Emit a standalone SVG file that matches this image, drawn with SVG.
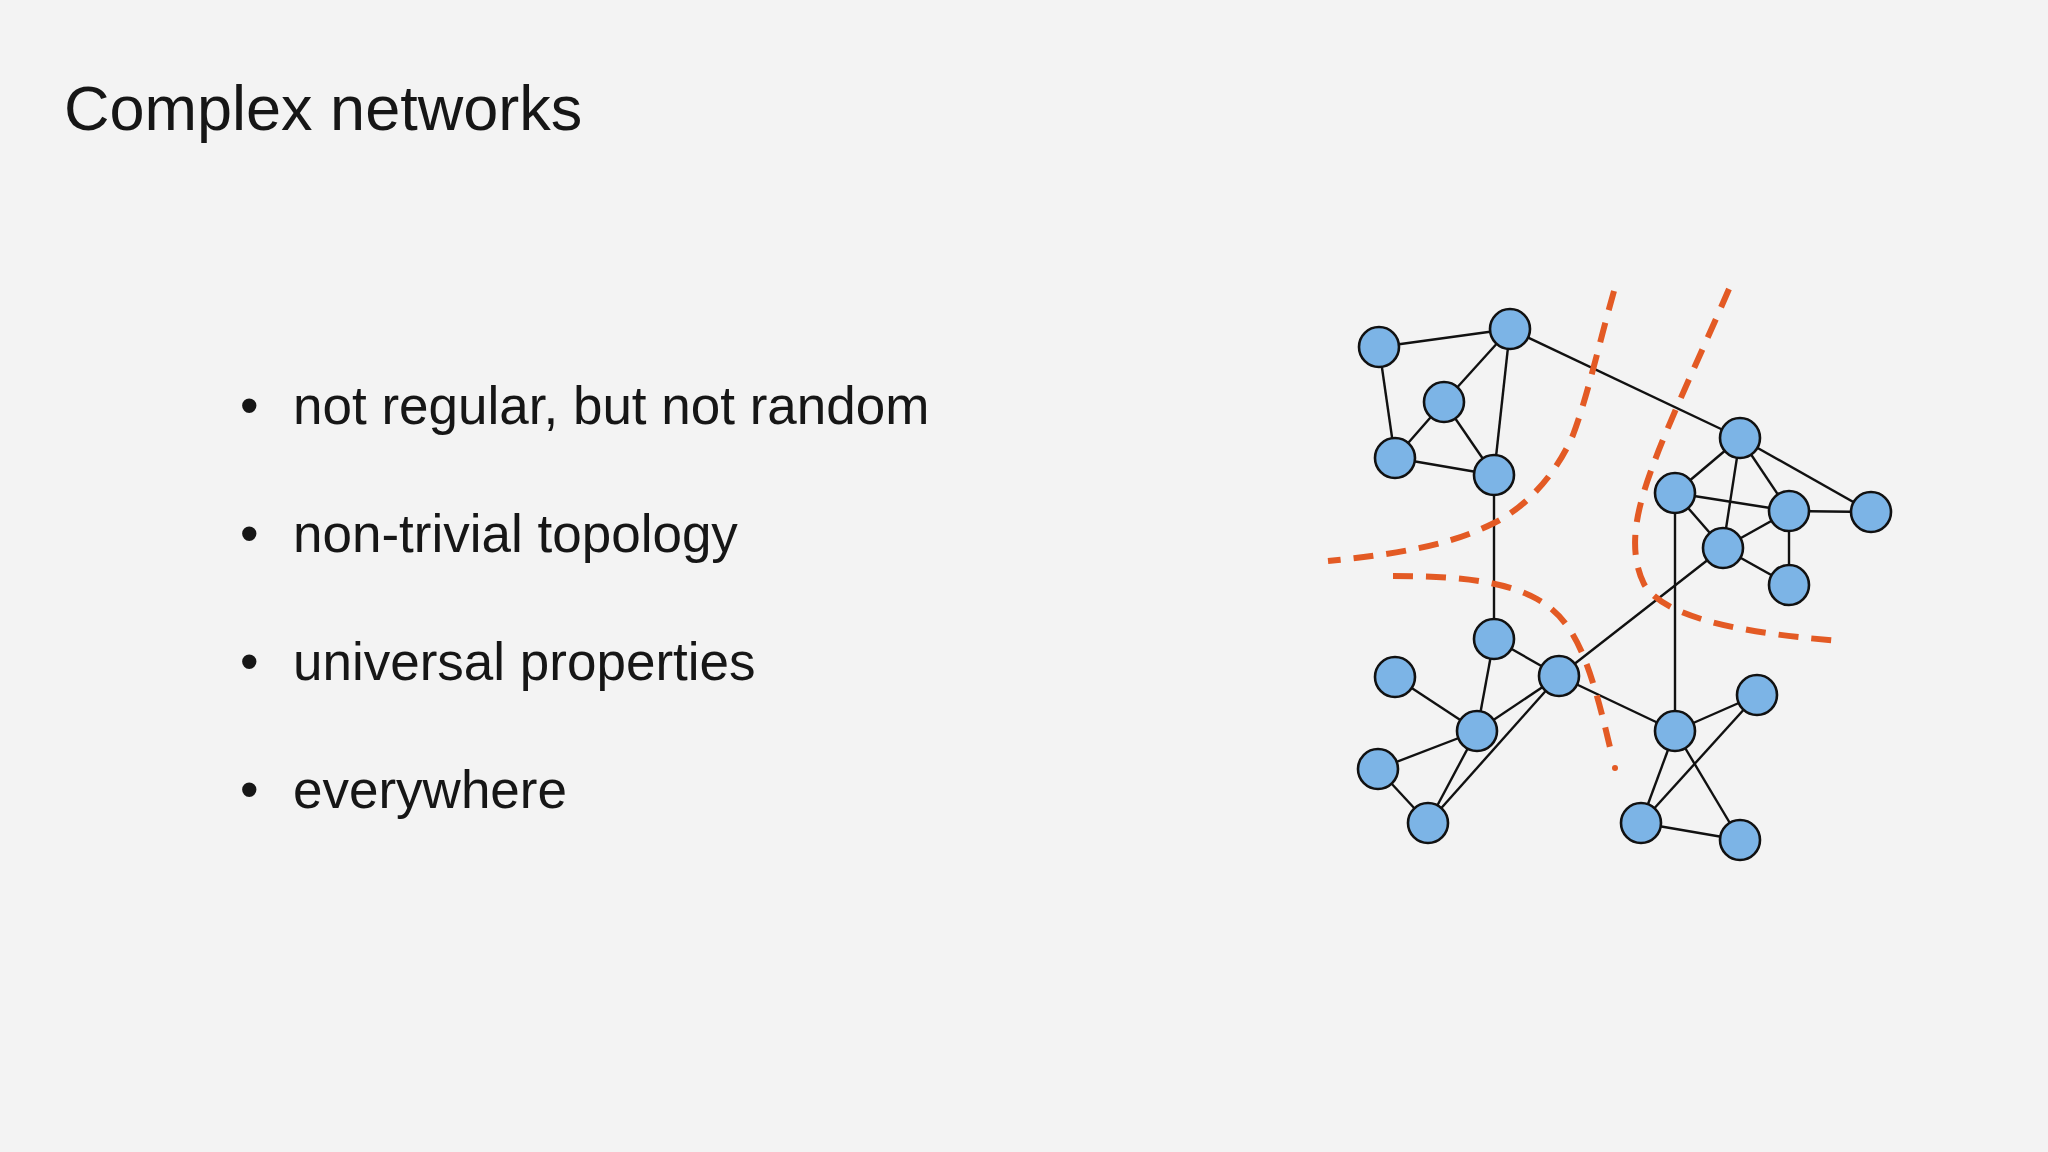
<svg xmlns="http://www.w3.org/2000/svg" width="2048" height="1152" viewBox="0 0 2048 1152">
<style>
text{font-family:"Liberation Sans",Arial,sans-serif;fill:#161616}
.t{font-size:63px}
.b{font-size:53px}
.e line{stroke:#111;stroke-width:2.4}
.n circle{fill:#7cb4e6;stroke:#111;stroke-width:2.6}
.d{fill:none;stroke:#e35a24;stroke-width:6;stroke-dasharray:20 13}
</style>
<rect width="2048" height="1152" fill="#f3f3f3"/>
<text class="t" x="64" y="130">Complex networks</text>
<g id="bullets">
<text class="b" x="240" y="424">•</text><text class="b" x="293" y="424">not regular, but not random</text>
<text class="b" x="240" y="552">•</text><text class="b" x="293" y="552">non-trivial topology</text>
<text class="b" x="240" y="680">•</text><text class="b" x="293" y="680">universal properties</text>
<text class="b" x="240" y="808">•</text><text class="b" x="293" y="808">everywhere</text>
</g>
<g id="connectors" class="e">
<line x1="1379" y1="347" x2="1510" y2="329"/><line x1="1379" y1="347" x2="1395" y2="458"/>
<line x1="1510" y1="329" x2="1444" y2="402"/><line x1="1510" y1="329" x2="1494" y2="475"/>
<line x1="1510" y1="329" x2="1740" y2="438"/><line x1="1444" y1="402" x2="1395" y2="458"/>
<line x1="1444" y1="402" x2="1494" y2="475"/><line x1="1395" y1="458" x2="1494" y2="475"/>
<line x1="1494" y1="475" x2="1494" y2="639"/><line x1="1740" y1="438" x2="1675" y2="493"/>
<line x1="1740" y1="438" x2="1723" y2="548"/><line x1="1740" y1="438" x2="1789" y2="511"/>
<line x1="1740" y1="438" x2="1871" y2="512"/><line x1="1675" y1="493" x2="1789" y2="511"/>
<line x1="1675" y1="493" x2="1723" y2="548"/><line x1="1675" y1="493" x2="1675" y2="731"/>
<line x1="1789" y1="511" x2="1871" y2="512"/><line x1="1789" y1="511" x2="1723" y2="548"/>
<line x1="1789" y1="511" x2="1789" y2="585"/><line x1="1723" y1="548" x2="1789" y2="585"/>
<line x1="1723" y1="548" x2="1559" y2="676"/><line x1="1494" y1="639" x2="1559" y2="676"/>
<line x1="1494" y1="639" x2="1477" y2="731"/><line x1="1395" y1="677" x2="1477" y2="731"/>
<line x1="1559" y1="676" x2="1477" y2="731"/><line x1="1559" y1="676" x2="1428" y2="823"/>
<line x1="1559" y1="676" x2="1675" y2="731"/><line x1="1477" y1="731" x2="1378" y2="769"/>
<line x1="1477" y1="731" x2="1428" y2="823"/><line x1="1378" y1="769" x2="1428" y2="823"/>
<line x1="1675" y1="731" x2="1757" y2="695"/><line x1="1675" y1="731" x2="1641" y2="823"/>
<line x1="1675" y1="731" x2="1740" y2="840"/><line x1="1757" y1="695" x2="1641" y2="823"/>
<line x1="1641" y1="823" x2="1740" y2="840"/>
</g>
<g id="nodes" class="n">
<g id="n1"><circle cx="1379" cy="347" r="20"/></g><g id="n2"><circle cx="1510" cy="329" r="20"/></g>
<g id="n3"><circle cx="1444" cy="402" r="20"/></g><g id="n4"><circle cx="1395" cy="458" r="20"/></g>
<g id="n5"><circle cx="1494" cy="475" r="20"/></g><g id="n6"><circle cx="1740" cy="438" r="20"/></g>
<g id="n7"><circle cx="1675" cy="493" r="20"/></g><g id="n8"><circle cx="1789" cy="511" r="20"/></g>
<g id="n9"><circle cx="1871" cy="512" r="20"/></g><g id="n10"><circle cx="1723" cy="548" r="20"/></g>
<g id="n11"><circle cx="1789" cy="585" r="20"/></g><g id="n12"><circle cx="1494" cy="639" r="20"/></g>
<g id="n13"><circle cx="1395" cy="677" r="20"/></g><g id="n14"><circle cx="1559" cy="676" r="20"/></g>
<g id="n15"><circle cx="1477" cy="731" r="20"/></g><g id="n16"><circle cx="1378" cy="769" r="20"/></g>
<g id="n17"><circle cx="1428" cy="823" r="20"/></g><g id="n18"><circle cx="1675" cy="731" r="20"/></g>
<g id="n19"><circle cx="1757" cy="695" r="20"/></g><g id="n20"><circle cx="1641" cy="823" r="20"/></g>
<g id="n21"><circle cx="1740" cy="840" r="20"/></g>
</g>
<g id="cuts">
<path class="d" d="M1614,291 C1600,340 1588,395 1573,435 C1558,470 1530,505 1494,523 C1460,540 1420,552 1328,561"/>
<path class="d" d="M1729,289 C1705,345 1672,415 1655,460 C1640,500 1625,545 1644,584 C1660,612 1720,632 1842,641"/>
<path class="d" d="M1393,576 C1440,576 1500,578 1537,599 C1575,620 1590,660 1612,756"/>
<circle cx="1615" cy="768" r="3" fill="#e35a24"/>
</g>
</svg>
